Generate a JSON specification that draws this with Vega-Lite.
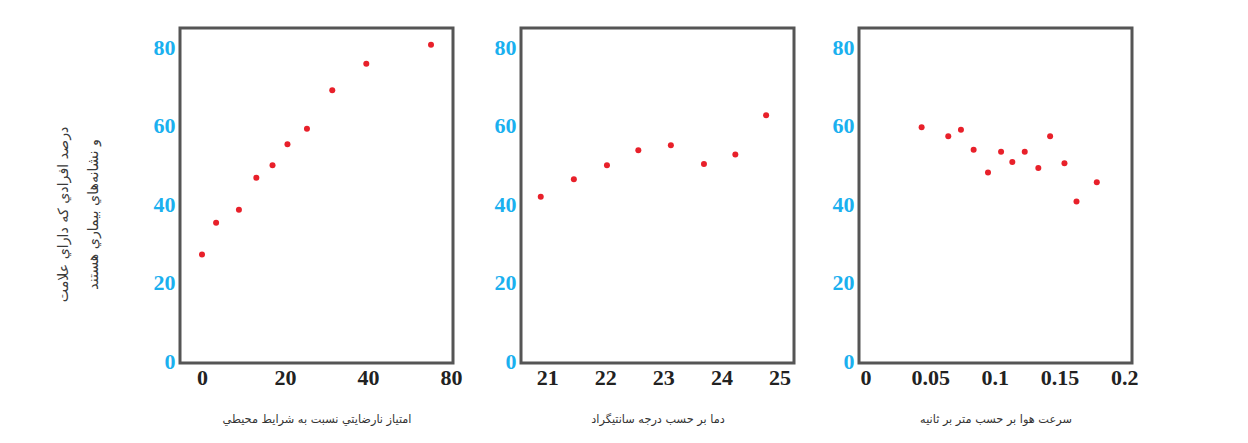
{
  "$schema": "https://vega.github.io/schema/vega-lite/v6.json",
  "background": "white",
  "padding": {"left": 54, "top": 26, "right": 5, "bottom": 5},
  "datasets": {
    "p1": [
      {"x": 0, "y": 27.2}, {"x": 3.4, "y": 35.3}, {"x": 8.9, "y": 38.6}, {"x": 13.1, "y": 46.8},
      {"x": 17.0, "y": 50.0}, {"x": 20.6, "y": 55.3}, {"x": 25.3, "y": 59.3}, {"x": 31.4, "y": 69.1},
      {"x": 39.6, "y": 75.9}, {"x": 55.2, "y": 80.7}
    ],
    "p2": [
      {"x": 20.89, "y": 41.9}, {"x": 21.46, "y": 46.4}, {"x": 22.03, "y": 50.0}, {"x": 22.57, "y": 53.8},
      {"x": 23.13, "y": 55.1}, {"x": 23.70, "y": 50.3}, {"x": 24.24, "y": 52.7}, {"x": 24.77, "y": 62.7}
    ],
    "p3": [
      {"x": 0.0434, "y": 59.7}, {"x": 0.0640, "y": 57.4}, {"x": 0.0738, "y": 59.0}, {"x": 0.0836, "y": 53.9},
      {"x": 0.0947, "y": 48.1}, {"x": 0.1048, "y": 53.4}, {"x": 0.1135, "y": 50.8}, {"x": 0.1231, "y": 53.4},
      {"x": 0.1336, "y": 49.3}, {"x": 0.1427, "y": 57.4}, {"x": 0.1538, "y": 50.5}, {"x": 0.1631, "y": 40.7},
      {"x": 0.1788, "y": 45.6}
    ]
  },
  "spacing": 34,
  "hconcat": [
    {
      "spacing": 28,
      "hconcat": [
        {
          "width": 273, "height": 335,
          "data": {"name": "p1"},
          "mark": {"type": "circle", "color": "#e8202a", "size": 36, "opacity": 1},
          "encoding": {
            "x": {"field": "x", "type": "quantitative",
                  "scale": {"domain": [-5.3, 60.5], "nice": false, "zero": false},
                  "axis": {"values": [0, 20, 40, 60], "labelExpr": "datum.value == 60 ? '80' : datum.label",
                           "title": "امتياز نارضايتي نسبت به شرايط محيطي"}},
            "y": {"field": "y", "type": "quantitative",
                  "scale": {"domain": [-0.5, 85], "nice": false, "zero": false},
                  "axis": {"values": [0, 20, 40, 60, 80],
                           "title": ["درصد افرادي كه داراي علامت", "و نشانه‌هاي بيماري هستند"],
                           "titlePadding": 53, "titleLineHeight": 30, "titleFontSize": 14.2, "titleColor": "#3a3a3a",
                           "titleY": 186}}
          }
        },
        {
          "width": 273, "height": 335,
          "data": {"name": "p2"},
          "mark": {"type": "circle", "color": "#e8202a", "size": 36, "opacity": 1},
          "encoding": {
            "x": {"field": "x", "type": "quantitative",
                  "scale": {"domain": [20.55, 25.25], "nice": false, "zero": false},
                  "axis": {"values": [21, 22, 23, 24, 25], "title": "دما بر حسب درجه سانتيگراد"}},
            "y": {"field": "y", "type": "quantitative",
                  "scale": {"domain": [-0.5, 85], "nice": false, "zero": false},
                  "axis": {"values": [0, 20, 40, 60, 80], "title": null}}
          }
        }
      ]
    },
    {
      "width": 273, "height": 335,
      "data": {"name": "p3"},
      "mark": {"type": "circle", "color": "#e8202a", "size": 36, "opacity": 1},
      "encoding": {
        "x": {"field": "x", "type": "quantitative",
              "scale": {"domain": [-0.005, 0.206], "nice": false, "zero": false},
              "axis": {"values": [0, 0.05, 0.1, 0.15, 0.2], "format": "~g", "title": "سرعت هوا بر حسب متر بر ثانيه"}},
        "y": {"field": "y", "type": "quantitative",
              "scale": {"domain": [-0.5, 85], "nice": false, "zero": false},
              "axis": {"values": [0, 20, 40, 60, 80], "title": null}}
      }
    }
  ],
  "config": {
    "view": {"stroke": "#555555", "strokeWidth": 3},
    "axis": {
      "grid": false, "domain": false, "ticks": false,
      "labelFont": "Liberation Serif", "labelFontWeight": "bold", "labelFontSize": 22,
      "labelOverlap": false, "labelBound": false, "labelFlush": false,
      "titleFont": "DejaVu Sans", "titleFontWeight": "normal", "titleFontSize": 11.3, "titleColor": "#333333"
    },
    "axisY": {"labelColor": "#1ab0ef", "labelPadding": 5},
    "axisX": {"labelColor": "#222222", "labelPadding": 4, "titlePadding": 25}
  }
}
